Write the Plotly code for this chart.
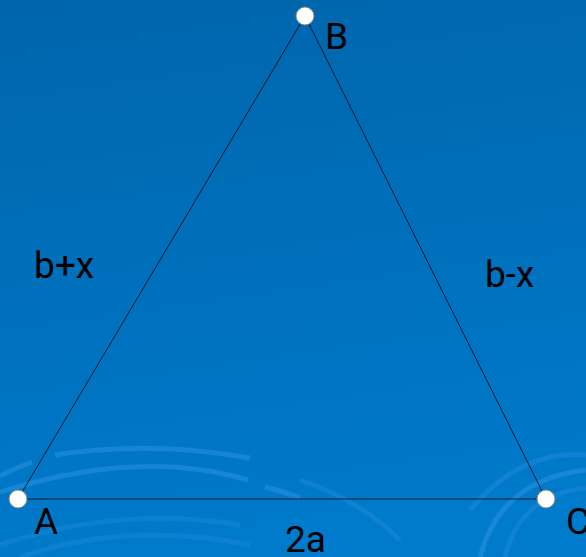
import base64
import plotly.graph_objects as go

W, H = 586, 557

# Vertices (data coords, y up)
point_names = ["A", "B", "C"]
point_x = [18, 305, 546]
point_y = [58, 541, 58]

# Labels
label_text = ["B", "A", "C", "2a", "b+x", "b-x"]
label_x = [336, 46, 578, 305, 64, 509]
label_y = [521, 36, 36, 18, 292, 283]

svg = f'''<svg xmlns="http://www.w3.org/2000/svg" width="{W}" height="{H}" viewBox="0 0 {W} {H}">
<defs><linearGradient id="g" x1="0" y1="0" x2="0.15" y2="1">
<stop offset="0" stop-color="#0065AC"/><stop offset="1" stop-color="#007ACA"/></linearGradient></defs>
<rect width="{W}" height="{H}" fill="url(#g)"/>
<g fill="none" stroke="#2A92E0" stroke-opacity="0.55" stroke-width="5">
<path d="M0,476 Q15,468 32,462"/>
<path d="M55,455 Q150,440 250,458"/>
<path d="M0,492 Q140,448 248,480"/>
<path d="M265,487 Q285,492 300,498"/>
<path d="M0,545 Q120,505 240,525" stroke-opacity="0.3"/>
<path d="M20,557 Q130,520 250,545" stroke-opacity="0.3"/>
<path d="M300,480 Q360,500 400,540" stroke-opacity="0.35"/>
<path d="M480,557 Q500,480 586,470"/>
<path d="M505,557 Q520,495 586,488" stroke-opacity="0.35"/>
<path d="M470,510 Q520,450 586,455" stroke-opacity="0.4"/>
</g></svg>'''
src = "data:image/svg+xml;base64," + base64.b64encode(svg.encode()).decode()

fig = go.Figure()
fig.add_trace(go.Scatter(
    x=point_x + [point_x[0]], y=point_y + [point_y[0]], mode="lines",
    line=dict(color="black", width=0.8), hoverinfo="skip"))
fig.add_trace(go.Scatter(
    x=point_x, y=point_y, mode="markers", text=point_names,
    marker=dict(size=18, color="white", line=dict(color="#888888", width=1)),
    cliponaxis=False))

for t, x, y in zip(label_text, label_x, label_y):
    fig.add_annotation(x=x, y=y, text=t, showarrow=False, xref="x", yref="y",
                       font=dict(family="Roboto", size=37, color="black"))

fig.add_layout_image(dict(source=src, xref="paper", yref="paper", x=0, y=1,
                          sizex=1, sizey=1, sizing="stretch", layer="below",
                          xanchor="left", yanchor="top"))

fig.update_layout(
    width=W, height=H, margin=dict(l=0, r=0, t=0, b=0),
    paper_bgcolor="#0070BC", plot_bgcolor="rgba(0,0,0,0)",
    showlegend=False,
    xaxis=dict(range=[0, W], visible=False, fixedrange=True),
    yaxis=dict(range=[0, H], visible=False, fixedrange=True),
)
fig.write_html("out.html", config={"displayModeBar": False},
               post_script="document.body.style.margin='0';document.body.style.padding='0';document.body.style.overflow='hidden';")
